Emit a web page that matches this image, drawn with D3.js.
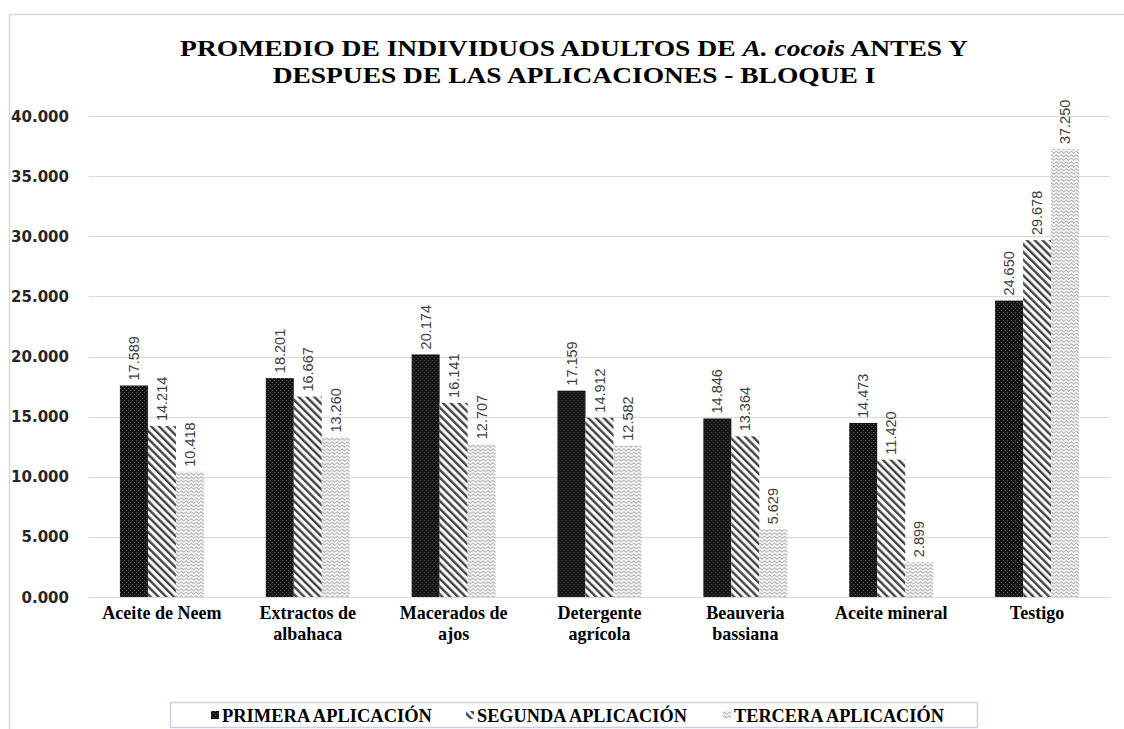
<!DOCTYPE html>
<html><head><meta charset="utf-8">
<script src="https://cdn.jsdelivr.net/npm/d3@7"></script>
<style>body{margin:0;background:#fff}svg{display:block}</style>
</head><body>
<svg id="c" width="1124" height="729"></svg>
<script>
const categories = [["Aceite de Neem"],["Extractos de","albahaca"],["Macerados de","ajos"],["Detergente","agrícola"],["Beauveria","bassiana"],["Aceite mineral"],["Testigo"]];
const seriesNames = ["PRIMERA APLICACIÓN","SEGUNDA APLICACIÓN","TERCERA APLICACIÓN"];
const primera = [17.589,18.201,20.174,17.159,14.846,14.473,24.650];
const segunda = [14.214,16.667,16.141,14.912,13.364,11.420,29.678];
const tercera = [10.418,13.260,12.707,12.582,5.629,2.899,37.250];
const yTicks = [0,5,10,15,20,25,30,35,40];
const series = [primera, segunda, tercera];

const svg = d3.select("#c");
const defs = svg.append("defs");
const p1 = defs.append("pattern").attr("id","p0").attr("patternUnits","userSpaceOnUse").attr("width",4).attr("height",4);
p1.append("rect").attr("width",4).attr("height",4).attr("fill","#141414");
p1.append("rect").attr("x",0).attr("y",0).attr("width",1).attr("height",1).attr("fill","#5a5a5a");
p1.append("rect").attr("x",2).attr("y",2).attr("width",1).attr("height",1).attr("fill","#5a5a5a");
const p2 = defs.append("pattern").attr("id","p1").attr("patternUnits","userSpaceOnUse").attr("width",5.5).attr("height",5.5).attr("patternTransform","rotate(-45)");
p2.append("rect").attr("width",5.5).attr("height",5.5).attr("fill","#fff");
p2.append("rect").attr("x",0).attr("width",2.4).attr("height",5.5).attr("fill","#444");
const p3 = defs.append("pattern").attr("id","p2").attr("patternUnits","userSpaceOnUse").attr("width",5).attr("height",3.5);
p3.append("rect").attr("width",5).attr("height",3.5).attr("fill","#fff");
p3.append("path").attr("d","M0,1.75 L1.25,0.7 L2.5,1.75 L3.75,2.8 L5,1.75").attr("fill","none").attr("stroke","#a8a8a8").attr("stroke-width",1);

svg.append("path").attr("d","M9.5,729 V14.5 H1124").attr("fill","none").attr("stroke","#d9d9d9").attr("stroke-width",1.5);

const m = {left:89, right:1110, top:116, bottom:597};
const x0 = d3.scaleBand().domain(d3.range(categories.length)).range([m.left,m.right]);
const x1 = d3.scaleBand().domain([0,1,2]).range([0,84]);
const y = d3.scaleLinear().domain([0,40]).range([m.bottom,m.top]);
const fmt = d3.format(".3f");

svg.append("g").selectAll("line").data(yTicks).join("line")
  .attr("x1",m.left).attr("x2",m.right).attr("y1",d=>Math.round(y(d))+0.5).attr("y2",d=>Math.round(y(d))+0.5)
  .attr("stroke","#d9d9d9").attr("stroke-width",1);

svg.append("g").selectAll("text").data(yTicks).join("text")
  .attr("x",69).attr("y",d=>y(d)+5.5).attr("text-anchor","end")
  .attr("font-family","DejaVu Sans").attr("font-weight","bold").attr("font-size",15).attr("fill","#262626")
  .text(d=>fmt(d));

const groups = svg.append("g").selectAll("g").data(categories).join("g")
  .attr("transform",(d,i)=>`translate(${x0(i)+x0.bandwidth()/2-42},0)`);
groups.each(function(c,i){
  const g = d3.select(this);
  series.forEach((s,k)=>{
    g.append("rect").attr("x",x1(k)).attr("width",x1.bandwidth()).attr("y",y(s[i])).attr("height",m.bottom-y(s[i]))
      .attr("fill",`url(#p${k})`);
    const cx = x1(k)+x1.bandwidth()/2;
    g.append("text").attr("transform",`translate(${cx+5},${y(s[i])-5}) rotate(-90)`)
      .attr("font-family","Liberation Sans").attr("font-size",14.5).attr("fill","#404040")
      .text(fmt(s[i]));
  });
});

function fitW(sel, cx, w){
  const bw = sel.node().getBBox().width;
  sel.attr("transform",`translate(${cx},0) scale(${w/bw},1) translate(${-cx},0)`);
}

const cl = svg.append("g").selectAll("text").data(categories).join("text")
  .attr("x",(d,i)=>x0(i)+x0.bandwidth()/2).attr("y",619).attr("text-anchor","middle")
  .attr("font-family","Liberation Serif").attr("font-weight","bold").attr("font-size",19).attr("fill","#000");
cl.each(function(d){
  const t = d3.select(this);
  d.forEach((line,j)=>t.append("tspan").attr("x",t.attr("x")).attr("dy",j?21:0).text(line));
  fitW(t, +t.attr("x"), this.getBBox().width*0.95);
});

const title = svg.append("g").attr("font-family","Liberation Serif").attr("font-weight","bold").attr("font-size",24).attr("fill","#000");
const t1 = title.append("text").attr("x",574).attr("y",56).attr("text-anchor","middle");
t1.append("tspan").text("PROMEDIO DE INDIVIDUOS ADULTOS DE ");
t1.append("tspan").attr("font-style","italic").text("A. cocois");
t1.append("tspan").text(" ANTES Y");
const t2 = title.append("text").attr("x",574).attr("y",83).attr("text-anchor","middle").text("DESPUES DE LAS APLICACIONES - BLOQUE I");
fitW(t1, 574, 788); fitW(t2, 574, 603);

svg.append("rect").attr("x",170.5).attr("y",702.5).attr("width",807).attr("height",25).attr("fill","#fff").attr("stroke","#c5d3e8").attr("stroke-width",1.5);
const legX = [211, 466, 723];
const lg = svg.append("g").selectAll("g").data(seriesNames).join("g").attr("transform",(d,i)=>`translate(${legX[i]},715)`);
lg.append("rect").attr("x",0).attr("y",-4).attr("width",8).attr("height",8).attr("fill",(d,i)=>`url(#p${i})`);
lg.append("text").attr("x",11).attr("y",6.5).attr("font-family","Liberation Serif").attr("font-weight","bold").attr("font-size",18).attr("fill","#000").text(d=>d)
  .each(function(){ fitW(d3.select(this), 11, 210); });
</script>
</body></html>
